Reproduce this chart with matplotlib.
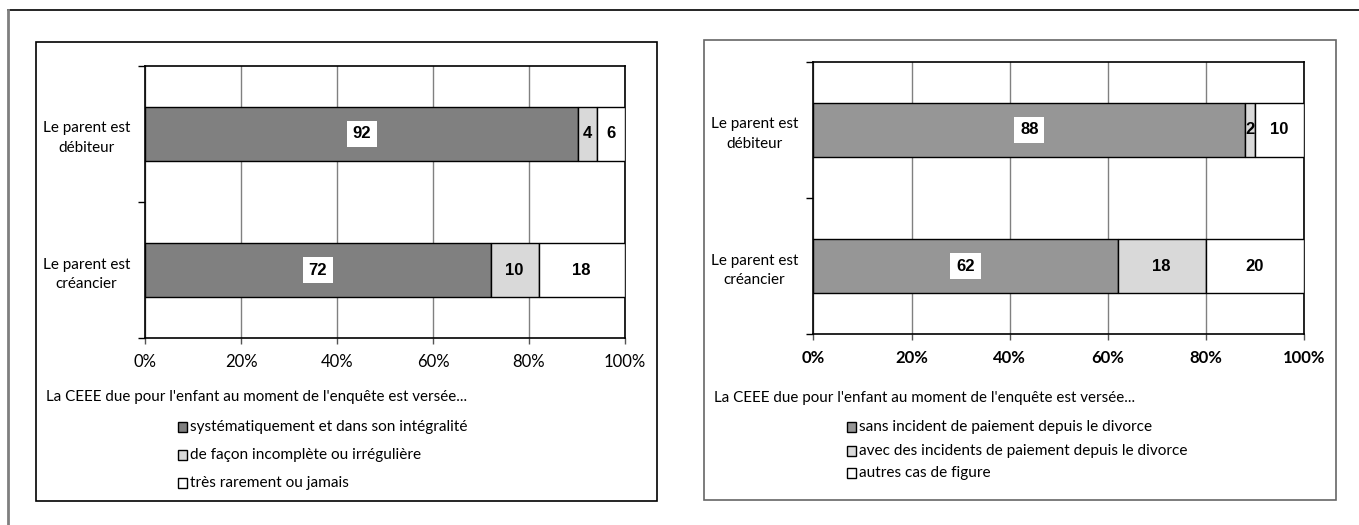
import matplotlib
matplotlib.use('Agg')
import matplotlib.pyplot as plt
import matplotlib.patches as mpatches
from matplotlib.lines import Line2D

plt.rcParams['font.family'] = ['Lato', 'DejaVu Sans']

categories = ["Le parent est\ncréancier", "Le parent est\ndébiteur"]
note = "La CEEE due pour l'enfant au moment de l'enquête est versée..."

# left chart
left_series = ["systématiquement et dans son intégralité",
               "de façon incomplète ou irrégulière",
               "très rarement ou jamais"]
left_values = [[72, 92], [10, 4], [18, 6]]

# right chart
right_series = ["sans incident de paiement depuis le divorce",
                "avec des incidents de paiement depuis le divorce",
                "autres cas de figure"]
right_values = [[62, 88], [18, 2], [20, 10]]

xticks = [0, 0.2, 0.4, 0.6, 0.8, 1.0]
xticklabels = ["0%", "20%", "40%", "60%", "80%", "100%"]

W, H = 1359, 525
FS = 11.1
fig = plt.figure(figsize=(W / 100, H / 100), dpi=100)


def box(x0, y0, x1, y1):
    return [x0 / W, 1 - y1 / H, (x1 - x0) / W, (y1 - y0) / H]


# outer frame (top and left)
fig.add_artist(Line2D([8 / W, 1], [1 - 10 / H, 1 - 10 / H], color='black', lw=1.2))
fig.add_artist(Line2D([8 / W, 8 / W], [0, 1 - 10 / H], color='#7f7f7f', lw=2))

# panel boxes
for (x0, y0, x1, y1), ec in [((35.6, 41.7, 657.4, 500.7), 'black'),
                             ((703.8, 40, 1336, 500), '#666666')]:
    fig.add_artist(mpatches.Rectangle((x0 / W, 1 - y1 / H), (x1 - x0) / W, (y1 - y0) / H,
                                      transform=fig.transFigure, fill=False, ec=ec, lw=1.2))


def draw(axbox, values, series, colors, bold_ticks, note_xy, leg_x, leg_y):
    ax = fig.add_axes(box(*axbox))
    ypos = [0, 1]
    totals = [sum(v[i] for v in values) for i in range(len(ypos))]
    left = [0.0, 0.0]
    for k, vals in enumerate(values):
        frac = [vals[i] / totals[i] for i in range(len(ypos))]
        ax.barh(ypos, frac, left=left, height=0.4, color=colors[k],
                edgecolor='black', linewidth=1, zorder=3)
        for i in range(len(ypos)):
            cx = left[i] + frac[i] / 2
            kw = {}
            if k == 0:
                kw['bbox'] = dict(boxstyle='square,pad=0.35', fc='white', ec='none')
            ax.text(cx, ypos[i], str(vals[i]), ha='center', va='center',
                    fontsize=12, fontweight='bold', family='Liberation Sans',
                    zorder=4, **kw)
        left = [left[i] + frac[i] for i in range(len(ypos))]

    ax.set_xlim(0, 1)
    ax.set_ylim(-0.5, 1.5)
    ax.set_xticks(xticks)
    ax.set_xticklabels(xticklabels, fontsize=12,
                       fontweight='bold' if bold_ticks else 'normal')
    ax.set_yticks([-0.5, 0.5, 1.5])
    ax.set_yticklabels([])
    ax.set_yticks(ypos, minor=True)
    ax.set_yticklabels(categories, minor=True, fontsize=11, linespacing=1.5)
    for lab in ax.get_yticklabels(minor=True):
        lab.set_multialignment('center')
    ax.tick_params(axis='y', which='major', length=5, direction='out', width=1)
    ax.tick_params(axis='y', which='minor', length=0, pad=11)
    ax.tick_params(axis='x', length=4, direction='out', width=1, pad=7, color='#555555')
    ax.grid(axis='x', color='#808080', lw=1, zorder=0)
    for s in ax.spines.values():
        s.set_color('black')
        s.set_linewidth(1.2)

    fig.text(note_xy[0] / W, 1 - note_xy[1] / H, note, fontsize=FS - 0.2, va='center', ha='left')
    for k, name in enumerate(series):
        y = leg_y[k]
        fig.add_artist(mpatches.Rectangle((leg_x / W, 1 - (y + 5) / H), 9 / W, 10 / H,
                                          transform=fig.transFigure, fc=colors[k],
                                          ec='black', lw=1))
        fig.text((leg_x + 12) / W, 1 - y / H, name, fontsize=FS, va='center', ha='left')


draw((145.3, 65.7, 624.9, 338.3), left_values, left_series,
     ['#808080', '#d9d9d9', 'white'], False, (45.5, 396.7), 178, [426.7, 455, 482.7])
draw((813.4, 61.7, 1304, 334.3), right_values, right_series,
     ['#969696', '#d9d9d9', 'white'], True, (713.8, 398), 847, [427.3, 450.7, 473.3])

fig.savefig("out.png", dpi=100)
